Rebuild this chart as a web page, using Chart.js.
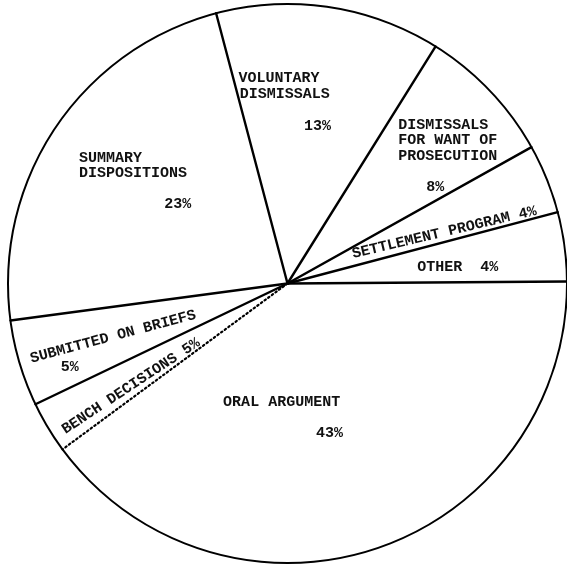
<!DOCTYPE html>
<html>
<head>
<meta charset="utf-8">
<script src="https://cdn.jsdelivr.net/npm/chart.js@4"></script>
<style>
  html, body { margin: 0; padding: 0; background: #fff; }
  #wrap { width: 567px; height: 565px; }
</style>
</head>
<body>
<div id="wrap"><canvas id="pie"></canvas></div>
<script>
// slices clockwise from the 3 o'clock line
var categories = ['Oral argument', 'Bench decisions', 'Submitted on briefs', 'Summary dispositions',
  'Voluntary dismissals', 'Dismissals for want of prosecution', 'Settlement program', 'Other'];
var shares = [40, 3, 5, 23, 13, 8, 4, 4];      // slice sizes as measured on the picture
var printed = ['43%', '5%', '5%', '23%', '13%', '8%', '4%', '4%']; // percentages printed on the chart
var dottedEdge = [false, true, false, false, false, false, false, false]; // start edge of the slice drawn dotted

// label layout: text, offset from centre in radius units, alignment, rotation (deg)
var labels = [
  ['VOLUNTARY', -0.175, -0.736, 'left', 0],
  ['DISMISSALS', -0.171, -0.679, 'left', 0],
  [printed[4], 0.107, -0.564, 'center', 0],
  ['DISMISSALS', 0.396, -0.568, 'left', 0],
  ['FOR WANT OF', 0.396, -0.511, 'left', 0],
  ['PROSECUTION', 0.396, -0.454, 'left', 0],
  [printed[5], 0.529, -0.343, 'center', 0],
  ['SUMMARY', -0.746, -0.450, 'left', 0],
  ['DISPOSITIONS', -0.746, -0.395, 'left', 0],
  [printed[3], -0.393, -0.282, 'center', 0],
  ['OTHER  ' + printed[7], 0.464, -0.059, 'left', 0],
  ['SETTLEMENT PROGRAM ' + printed[6], 0.561, -0.182, 'center', -13.3],
  ['SUBMITTED ON BRIEFS', -0.624, 0.191, 'center', -15],
  [printed[2], -0.779, 0.300, 'center', 0],
  ['BENCH DECISIONS ' + printed[1], -0.560, 0.368, 'center', -33.4],
  ['ORAL ARGUMENT', -0.021, 0.425, 'center', 0],
  [printed[0], 0.150, 0.536, 'center', 0]
];

var outline = {
  id: 'outline',
  afterDatasetsDraw: function (chart) {
    var arcs = chart.getDatasetMeta(0).data;
    var ctx = chart.ctx;
    var cx = arcs[0].x, cy = arcs[0].y, r = arcs[0].outerRadius;
    ctx.save();
    ctx.strokeStyle = '#000';
    ctx.lineCap = 'round';
    // rim
    ctx.lineWidth = 2;
    ctx.beginPath();
    ctx.arc(cx, cy, r, 0, Math.PI * 2);
    ctx.stroke();
    // slice edges
    arcs.forEach(function (a, i) {
      ctx.beginPath();
      if (dottedEdge[i]) { ctx.setLineDash([1.5, 3]); ctx.lineWidth = 2.2; }
      else { ctx.setLineDash([]); ctx.lineWidth = 2.4; }
      ctx.moveTo(cx, cy);
      ctx.lineTo(cx + r * Math.cos(a.startAngle), cy + r * Math.sin(a.startAngle));
      ctx.stroke();
    });
    ctx.setLineDash([]);
    // labels
    ctx.fillStyle = '#111';
    ctx.font = 'bold 15px "Liberation Mono", "DejaVu Sans Mono", monospace';
    ctx.textBaseline = 'middle';
    labels.forEach(function (l) {
      ctx.save();
      ctx.translate(cx + l[1] * r, cy + l[2] * r);
      ctx.rotate(l[4] * Math.PI / 180);
      ctx.textAlign = l[3];
      ctx.fillText(l[0], 0, 0);
      ctx.restore();
    });
    ctx.restore();
  }
};

new Chart(document.getElementById('pie'), {
  type: 'pie',
  data: {
    labels: categories,
    datasets: [{ data: shares, backgroundColor: '#fff', borderWidth: 0 }]
  },
  options: {
    responsive: true,
    maintainAspectRatio: false,
    animation: false,
    rotation: 89.6,
    layout: { padding: { left: 8, right: 0, top: 2, bottom: 0 } },
    plugins: { legend: { display: false }, tooltip: { enabled: false } }
  },
  plugins: [outline]
});
</script>
</body>
</html>
